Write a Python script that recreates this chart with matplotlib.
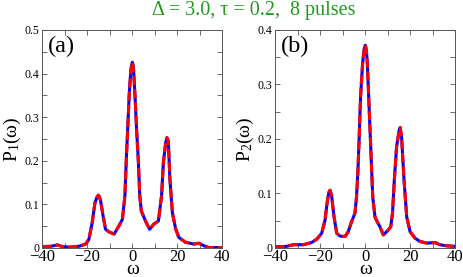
import matplotlib
matplotlib.use("Agg")
import matplotlib.pyplot as plt
from matplotlib.ticker import MultipleLocator
import numpy as np

plt.rcParams['font.family'] = ['Liberation Serif', 'DejaVu Serif']
plt.rcParams['mathtext.fontset'] = 'custom'
plt.rcParams['mathtext.rm'] = 'Liberation Serif'
plt.rcParams['mathtext.it'] = 'Liberation Serif'

# omega grid + spectra
w1 = [-40, -36, -33.3, -31, -28, -23.7, -20.7, -19.3, -17.8, -16.6, -15.6, -15.1, -14.6, -14.1, -13,
      -11.9, -10.4, -8.1, -5.9, -4.4, -3.3, -2.7, -2.0, -1.4, -0.7, -0.3, 0, 0.3, 0.6, 1.2, 1.9, 2.7,
      3.3, 4, 5.2, 6.2, 7.7, 9.6, 11.6, 13, 13.8, 14.8, 15.4, 16, 16.7, 17.8, 19.3, 20.7, 23.7, 27.4,
      29.6, 31.9, 34, 40]
p1 = [0.003, 0.004, 0.007, 0.003, 0.002, 0.004, 0.009, 0.02, 0.059, 0.104, 0.118, 0.121, 0.117, 0.108,
      0.074, 0.043, 0.037, 0.032, 0.051, 0.066, 0.12, 0.2, 0.28, 0.35, 0.405, 0.42, 0.426, 0.42, 0.405,
      0.348, 0.272, 0.196, 0.12, 0.085, 0.07, 0.058, 0.043, 0.055, 0.062, 0.12, 0.196, 0.241, 0.253,
      0.245, 0.158, 0.081, 0.043, 0.024, 0.013, 0.009, 0.011, 0.005, 0.001, 0.001]

w2 = [-40, -35, -32, -27.6, -23.9, -21.6, -19.4, -17.9, -16.9, -16.2, -15.7, -15, -13.9, -12.7, -11.3,
      -9, -7.6, -6.1, -4.6, -3.9, -3.3, -2.7, -2.1, -1.2, -0.5, 0, 0.5, 0.9, 1.5, 2.1, 2.7, 3.3, 4.3,
      5.3, 6.5, 8, 10.2, 11.3, 12.1, 12.9, 13.9, 15.1, 15.5, 16.1, 17.2, 18.4, 19.9, 22.1, 24.3, 27.3,
      31, 33.2, 36, 40]
p2 = [0.002, 0.003, 0.006, 0.006, 0.01, 0.016, 0.027, 0.051, 0.085, 0.102, 0.106, 0.097, 0.057, 0.027,
      0.022, 0.021, 0.03, 0.048, 0.064, 0.094, 0.14, 0.205, 0.278, 0.339, 0.365, 0.372, 0.362, 0.339,
      0.278, 0.217, 0.155, 0.094, 0.057, 0.048, 0.039, 0.024, 0.033, 0.039, 0.064, 0.125, 0.186, 0.217,
      0.221, 0.205, 0.125, 0.057, 0.03, 0.018, 0.012, 0.009, 0.01, 0.006, 0.004, 0.003]

fig = plt.figure(figsize=(4.63, 2.77), dpi=100)
ax1 = fig.add_axes([0.0914, 0.1047, 0.3888, 0.787])
ax2 = fig.add_axes([0.5946, 0.1047, 0.3888, 0.787])

panels = [(ax1, w1, p1, 0.5, r'P$_1$(ω)', '(a)'),
          (ax2, w2, p2, 0.4, r'P$_2$(ω)', '(b)')]

for ax, w, p, ymax, ylab, tag in panels:
    ax.plot(w, p, color='blue', lw=2.2, solid_joinstyle='round')
    ax.plot(w, p, color='red', lw=2.2, dashes=(3, 1.3), dash_joinstyle='round')
    ax.set_xlim(-40, 40)
    ax.set_ylim(0, ymax)
    ax.xaxis.set_major_locator(MultipleLocator(20))
    ax.xaxis.set_minor_locator(MultipleLocator(10))
    ax.yaxis.set_minor_locator(MultipleLocator(0.05))
    ax.tick_params(which='both', direction='in', top=True, right=True, width=0.6,
                   length=3.5, color='#555555')
    ax.tick_params(axis='x', labelsize=12, pad=1)
    ax.tick_params(axis='y', labelsize=8.5, pad=2)
    ticks = np.arange(0, ymax + 0.01, 0.1)
    ax.set_yticks(ticks)
    ax.set_yticklabels(['0'] + ['%.1f' % v for v in ticks[1:]])
    for s in ax.spines.values():
        s.set_linewidth(0.7)
        s.set_color('#555555')
    ax.set_xlabel('ω', fontsize=14, labelpad=-3.5)
    ax.set_ylabel(ylab, fontsize=14, labelpad=1)
    ax.text(0.03, 0.975, tag, transform=ax.transAxes, fontsize=17.5, va='top', ha='left')

fig.text(0.5475, 0.962, 'Δ = 3.0, τ = 0.2,  8 pulses', color='#1f9a1f', fontsize=14.5,
         ha='center', va='center')

fig.savefig('out.png', dpi=100)
